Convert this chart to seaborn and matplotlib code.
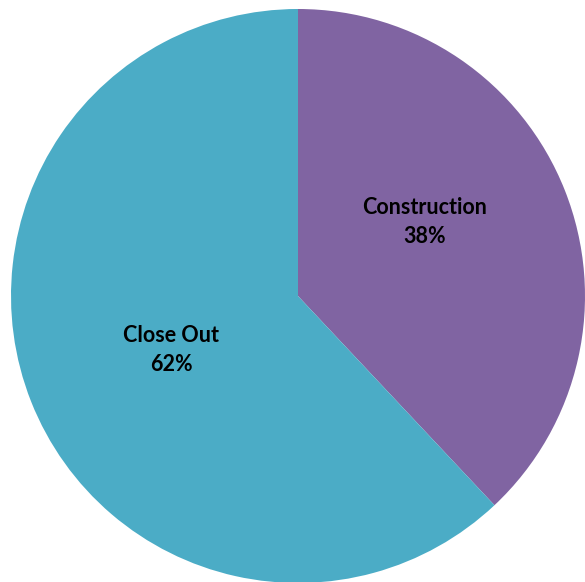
import matplotlib
matplotlib.use("Agg")
import matplotlib.pyplot as plt
import seaborn as sns

phases = ["Construction", "Close Out"]
shares = [38, 62]
colors = ["#8064A2", "#4BACC6"]

sns.set_theme(style="white")
plt.rcParams["font.family"] = ["Lato", "DejaVu Sans"]

fig = plt.figure(figsize=(5.85, 5.82), dpi=100)
ax = fig.add_axes([0, 0, 1, 1])

# pie in pixel-like data coords, y up
cx, cy, r = 298, 286, 287
ax.pie(shares, colors=colors, startangle=90, counterclock=False,
       center=(cx, cy), radius=r, wedgeprops={"linewidth": 0})

# data labels, placed like the Excel chart
label_pos = [(cx + 127, cy + 74), (cx - 127, cy - 54)]
for name, val, (tx, ty) in zip(phases, shares, label_pos):
    ax.text(tx, ty, f"{name}\n{val}%", ha="center", va="center",
            fontsize=15.5, fontweight="bold", color="black", linespacing=1.42)

ax.set_xlim(0, 585)
ax.set_ylim(0, 582)
ax.set_aspect("auto")
ax.axis("off")

fig.savefig("out.png", dpi=100)
